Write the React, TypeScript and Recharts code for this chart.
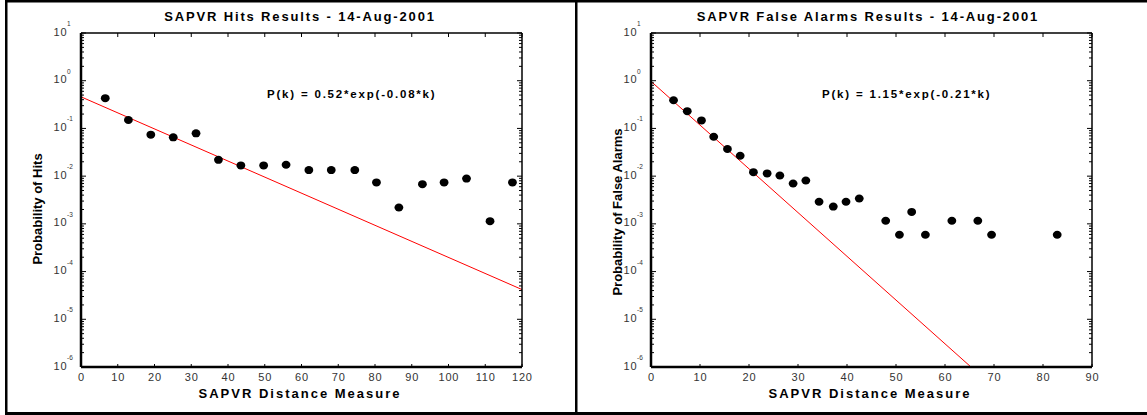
import React from 'react'
import { ComposedChart, Scatter, Line, XAxis, YAxis } from 'recharts'

// SAPVR hits (left panel)
const hitsK = [6.6, 12.9, 19.0, 25.1, 31.3, 37.4, 43.5, 49.7, 55.8, 62.0, 68.1, 74.5, 80.4, 86.5, 92.9, 98.8, 104.9, 111.3, 117.4]
const hitsP = [0.43, 0.15, 0.074, 0.065, 0.079, 0.022, 0.0168, 0.0168, 0.0173, 0.0134, 0.0134, 0.0134, 0.0074, 0.0022, 0.0068, 0.0074, 0.0089, 0.00114, 0.0074]
const hitsFitK = [0, 120]
const hitsFitP = [0.46, 4.2e-5]

// SAPVR false alarms (right panel)
const faK = [4.6, 7.4, 10.3, 12.8, 15.6, 18.2, 20.9, 23.7, 26.3, 29.0, 31.6, 34.3, 37.2, 39.8, 42.5, 47.9, 50.7, 53.2, 56.0, 61.4, 66.7, 69.5, 82.9]
const faP = [0.39, 0.23, 0.147, 0.067, 0.037, 0.0267, 0.0121, 0.0114, 0.0103, 0.007, 0.0081, 0.0029, 0.0023, 0.0029, 0.0034, 0.00116, 0.00059, 0.00178, 0.00059, 0.00116, 0.00116, 0.00059, 0.00059]
const faFitK = [0, 65.3]
const faFitP = [0.97, 1e-6]

const hitsXTicks = [0, 10, 20, 30, 40, 50, 60, 70, 80, 90, 100, 110, 120]
const faXTicks = [0, 10, 20, 30, 40, 50, 60, 70, 80, 90]
const decadeExps = [1, 0, -1, -2, -3, -4, -5, -6]
const minorMults = [2, 3, 4, 5, 6, 7, 8, 9]

const yTicks = [
  ...decadeExps.map((e) => Math.pow(10, e)),
  ...decadeExps.filter((e) => e < 1).flatMap((e) => minorMults.map((m) => m * Math.pow(10, e))),
]

const FONT = '"Liberation Sans", Arial, sans-serif'

const toPoints = (ks: number[], ps: number[]) => ks.map((k, i) => ({ x: k, y: ps[i] }))

const isMajor = (v: number) => {
  const l = Math.log10(v)
  return Math.abs(l - Math.round(l)) < 1e-6
}

// log axis: minor ticks 2..9 inside, labels 10^n on the decades
const LeftTick = (props: any) => {
  const { x, y, payload } = props
  const v = payload.value
  const major = isMajor(v)
  const exp = Math.round(Math.log10(v))
  return (
    <g>
      <line x1={x} x2={x + (major ? 5 : 3)} y1={y} y2={y} stroke="#000" strokeWidth={1} />
      {major && (
        <g fontFamily={FONT} fill="#333">
          <text x={x - 27.5} y={y + 2.5} fontSize={11} letterSpacing={0.8}>10</text>
          <text x={x - 14} y={y - 7} fontSize={6.5}>{exp}</text>
        </g>
      )}
    </g>
  )
}

const RightTick = (props: any) => {
  const { x, y, payload } = props
  const major = isMajor(payload.value)
  return <line x1={x} x2={x - (major ? 5 : 3)} y1={y} y2={y} stroke="#000" strokeWidth={1} />
}

const BottomTick = (props: any) => {
  const { x, y, payload } = props
  return (
    <g>
      <line x1={x} x2={x} y1={y} y2={y - 3} stroke="#000" strokeWidth={1} />
      <text x={x + 0.4} y={y + 13.5} textAnchor="middle" fontFamily={FONT} fontSize={11} letterSpacing={0.8} fill="#333">
        {payload.value}
      </text>
    </g>
  )
}

const TopTick = (props: any) => {
  const { x, y } = props
  return <line x1={x} x2={x} y1={y} y2={y + 4} stroke="#000" strokeWidth={1} />
}

const Dot = (props: any) => <ellipse cx={props.cx} cy={props.cy} rx={4.4} ry={4} fill="#000" />

interface PanelProps {
  left: number
  xMax: number
  xTicks: number[]
  points: { x: number; y: number }[]
  fit: { x: number; y: number }[]
}

function Panel({ left, xMax, xTicks, points, fit }: PanelProps) {
  return (
    <div style={{ position: 'absolute', left, top: 0 }}>
      <ComposedChart width={576} height={415} margin={{ top: 32, right: 0, bottom: 0, left: 0 }}>
        <XAxis
          xAxisId="b"
          dataKey="x"
          type="number"
          domain={[0, xMax]}
          ticks={xTicks}
          interval={0}
          height={48}
          tickSize={0}
          tickMargin={0}
          tickLine={false}
          tick={<BottomTick />}
          axisLine={{ stroke: '#000', strokeWidth: 2.5 }}
          allowDataOverflow
        />
        <XAxis
          xAxisId="t"
          orientation="top"
          dataKey="x"
          type="number"
          domain={[0, xMax]}
          ticks={xTicks}
          interval={0}
          height={1}
          tickSize={0}
          tickMargin={0}
          tickLine={false}
          tick={<TopTick />}
          axisLine={{ stroke: '#000', strokeWidth: 1.5 }}
          allowDataOverflow
        />
        <YAxis
          yAxisId="l"
          dataKey="y"
          scale="log"
          domain={[1e-6, 10]}
          ticks={yTicks}
          interval={0}
          width={81}
          tickSize={0}
          tickMargin={0}
          tickLine={false}
          tick={<LeftTick />}
          axisLine={{ stroke: '#000', strokeWidth: 2.5 }}
          allowDataOverflow
        />
        <YAxis
          yAxisId="r"
          orientation="right"
          dataKey="y"
          scale="log"
          domain={[1e-6, 10]}
          ticks={yTicks}
          interval={0}
          width={54}
          tickSize={0}
          tickMargin={0}
          tickLine={false}
          tick={<RightTick />}
          axisLine={{ stroke: '#000', strokeWidth: 1.5 }}
          allowDataOverflow
        />
        <Line
          xAxisId="b"
          yAxisId="l"
          data={fit}
          dataKey="y"
          stroke="#ff0000"
          strokeWidth={1}
          dot={false}
          activeDot={false}
          isAnimationActive={false}
        />
        <Scatter
          xAxisId="b"
          yAxisId="l"
          data={points}
          dataKey="y"
          fill="#000"
          shape={<Dot />}
          isAnimationActive={false}
        />
      </ComposedChart>
    </div>
  )
}

export default function App() {
  const titleStyle = { fontFamily: FONT, fontWeight: 700, fill: '#000' } as const
  return (
    <div style={{ position: 'relative', width: 1147, height: 415, background: '#fff', overflow: 'hidden' }}>
      <style>{'body{margin:0}'}</style>
      <Panel left={0} xMax={120} xTicks={hitsXTicks} points={toPoints(hitsK, hitsP)} fit={toPoints(hitsFitK, hitsFitP)} />
      <Panel left={570} xMax={90} xTicks={faXTicks} points={toPoints(faK, faP)} fit={toPoints(faFitK, faFitP)} />
      <svg width={1147} height={415} style={{ position: 'absolute', left: 0, top: 0, pointerEvents: 'none' }}>
        <rect x={5} y={0} width={1142} height={2.5} fill="#000" />
        <rect x={5} y={0} width={2.5} height={415} fill="#000" />
        <rect x={5} y={412} width={1142} height={3} fill="#000" />
        <rect x={575} y={0} width={2.5} height={415} fill="#000" />

        <text x={300} y={21} textAnchor="middle" fontSize={13} letterSpacing={1.85} {...titleStyle}>
          SAPVR Hits Results - 14-Aug-2001
        </text>
        <text x={868} y={21} textAnchor="middle" fontSize={13} letterSpacing={1.85} {...titleStyle}>
          SAPVR False Alarms Results - 14-Aug-2001
        </text>

        <text x={300} y={397.5} textAnchor="middle" fontSize={13} letterSpacing={2} {...titleStyle}>
          SAPVR Distance Measure
        </text>
        <text x={870} y={397.5} textAnchor="middle" fontSize={13} letterSpacing={2} {...titleStyle}>
          SAPVR Distance Measure
        </text>

        <text transform="translate(42,209) rotate(-90)" textAnchor="middle" fontSize={13} {...titleStyle}>
          Probability of Hits
        </text>
        <text transform="translate(622,212) rotate(-90)" textAnchor="middle" fontSize={13} {...titleStyle}>
          Probability of False Alarms
        </text>

        <text x={267} y={98} fontSize={11.5} letterSpacing={1.8} {...titleStyle}>
          P(k) = 0.52*exp(-0.08*k)
        </text>
        <text x={822} y={98} fontSize={11.5} letterSpacing={1.8} {...titleStyle}>
          P(k) = 1.15*exp(-0.21*k)
        </text>
      </svg>
    </div>
  )
}
